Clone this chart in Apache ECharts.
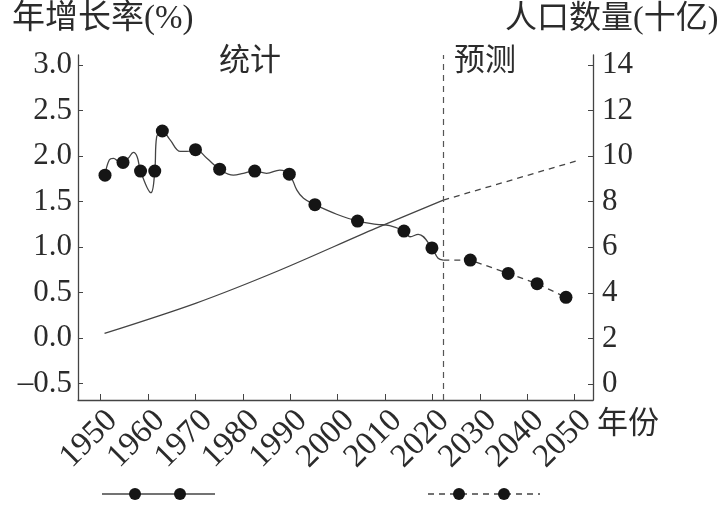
<!DOCTYPE html>
<html>
<head>
<meta charset="utf-8">
<script src="https://cdn.jsdelivr.net/npm/echarts@6/dist/echarts.min.js"></script>
<style>
html, body { margin: 0; padding: 0; background: #fff; }
#main { width: 724px; height: 505px; }
</style>
</head>
<body>
<div id="main"></div>
<script>
// 年增长率 圆点（统计）
var rateDotYears = [1950.9, 1954.7, 1958.4, 1961.4, 1963.0, 1970.0, 1975.1, 1982.5, 1989.8, 1995.2, 2004.2, 2014.0, 2019.9];
var rateDotValues = [1.79, 1.93, 1.835, 1.835, 2.275, 2.07, 1.855, 1.835, 1.80, 1.465, 1.285, 1.175, 0.99];

// 年增长率 曲线（统计，逐年波动）
var rateCurveYears = [1950.9, 1951.8, 1952.7, 1953.7, 1954.7, 1955.8, 1956.9, 1957.7, 1958.4, 1960.6, 1961.4, 1961.8, 1963.0, 1964.6, 1966.8, 1968.2, 1970.0, 1972.4, 1975.1, 1978.0, 1980.1, 1982.5, 1985.0, 1987.8, 1989.8, 1991.4, 1992.8, 1995.2, 1999.8, 2004.2, 2008.2, 2011.0, 2014.0, 2015.3, 2017.0, 2019.9, 2021.2, 2022.3];
var rateCurveValues = [1.79, 1.956, 1.975, 1.94, 1.93, 1.975, 2.04, 1.99, 1.835, 1.597, 1.835, 2.21, 2.275, 2.18, 2.05, 2.05, 2.07, 1.975, 1.855, 1.79, 1.81, 1.835, 1.81, 1.846, 1.80, 1.626, 1.535, 1.465, 1.36, 1.285, 1.25, 1.234, 1.175, 1.113, 1.14, 0.99, 0.876, 0.857];

// 年增长率（预测）
var rateForecastYears = [2022.3, 2028.0, 2036.0, 2042.1, 2048.2];
var rateForecastValues = [0.857, 0.857, 0.71, 0.597, 0.447];

// 人口数量（十亿）
var popYears = [1950.8, 1970.0, 1987.5, 2008.0, 2022.3];
var popValues = [2.22, 3.54, 4.97, 6.83, 8.07];
var popForecastYears = [2022.3, 2050.9];
var popForecastValues = [8.07, 9.82];

var splitYear = 2022.2;

var yearTicks = [1950, 1960, 1970, 1980, 1990, 2000, 2010, 2020, 2030, 2040, 2050];
var rateTicks = [-0.5, 0, 0.5, 1.0, 1.5, 2.0, 2.5, 3.0];
var popTicks = [0, 2, 4, 6, 8, 10, 12, 14];

function pairs(xs, ys) {
	var arr = [];
	for (var i = 0; i < xs.length; i++) {
		arr.push([xs[i], ys[i]]);
	}
	return arr;
}

var FONT = '"Liberation Serif", "Noto Sans CJK SC", serif';
var INK = '#2b2b2b';
var LINE = '#444';
var DOT = '#151515';

var dotData = pairs(rateDotYears, rateDotValues).concat(pairs(rateForecastYears.slice(1), rateForecastValues.slice(1)));

var option = {
	animation: false,
	backgroundColor: '#fff',
	grid: { left: 78, right: 131, top: 55, bottom: 105 },
	xAxis: {
		type: 'value',
		min: 1945.2,
		max: 2053.9,
		splitLine: { show: false },
		axisLine: { onZero: false, lineStyle: { color: LINE, width: 1.3 } },
		axisTick: { inside: true, length: 6, customValues: yearTicks, lineStyle: { color: LINE } },
		axisLabel: {
			customValues: yearTicks,
			rotate: 45,
			margin: 4,
			verticalAlign: 'top',
			fontFamily: FONT,
			fontSize: 33,
			color: INK,
			formatter: function (v) { return String(v); }
		}
	},
	yAxis: [
		{
			type: 'value',
			min: -0.681,
			max: 3.11,
			splitLine: { show: false },
			axisLine: { show: true, lineStyle: { color: LINE, width: 1.3 } },
			axisTick: { show: true, inside: true, length: 5, customValues: rateTicks, lineStyle: { color: LINE } },
			axisLabel: {
				customValues: rateTicks,
				margin: 6,
				fontFamily: FONT,
				fontSize: 31,
				color: INK,
				formatter: function (v) {
					return v < 0 ? '\u2013' + Math.abs(v).toFixed(1) : v.toFixed(1);
				}
			}
		},
		{
			type: 'value',
			position: 'right',
			min: -0.702,
			max: 14.44,
			splitLine: { show: false },
			axisLine: { show: true, lineStyle: { color: LINE, width: 1.3 } },
			axisTick: { show: true, inside: true, length: 5, customValues: popTicks, lineStyle: { color: LINE } },
			axisLabel: {
				customValues: popTicks,
				margin: 9,
				fontFamily: FONT,
				fontSize: 31,
				color: INK
			}
		}
	],
	graphic: [
		{ type: 'text', left: 12, top: 3, style: { text: '年增长率(%)', font: '33px ' + FONT, fill: INK } },
		{ type: 'text', left: 505, top: 4, style: { text: '人口数量(十亿)', font: '32px ' + FONT, fill: INK } },
		{ type: 'text', left: 219, top: 46, style: { text: '统计', font: '31px ' + FONT, fill: INK } },
		{ type: 'text', left: 454, top: 46, style: { text: '预测', font: '31px ' + FONT, fill: INK } },
		{ type: 'text', left: 597, top: 409, style: { text: '年份', font: '31px ' + FONT, fill: INK } },
		// 图例
		{ type: 'line', shape: { x1: 102, y1: 494, x2: 215, y2: 494 }, style: { stroke: LINE, lineWidth: 1.3 } },
		{ type: 'circle', shape: { cx: 135, cy: 494, r: 6 }, style: { fill: DOT } },
		{ type: 'circle', shape: { cx: 180, cy: 494, r: 6 }, style: { fill: DOT } },
		{ type: 'line', shape: { x1: 428, y1: 494, x2: 540, y2: 494 }, style: { stroke: LINE, lineWidth: 1.3, lineDash: [6, 5] } },
		{ type: 'circle', shape: { cx: 459, cy: 494, r: 6 }, style: { fill: DOT } },
		{ type: 'circle', shape: { cx: 504, cy: 494, r: 6 }, style: { fill: DOT } }
	],
	series: [
		{
			name: '年增长率',
			type: 'line',
			smooth: 0.4,
			showSymbol: false,
			data: pairs(rateCurveYears, rateCurveValues),
			lineStyle: { color: LINE, width: 1.3 },
			markLine: {
				silent: true,
				symbol: 'none',
				label: { show: false },
				lineStyle: { color: '#555', width: 1.2, type: [6, 5] },
				data: [{ xAxis: splitYear }]
			}
		},
		{
			name: '年增长率预测',
			type: 'line',
			showSymbol: false,
			data: pairs(rateForecastYears, rateForecastValues),
			lineStyle: { color: LINE, width: 1.3, type: [6, 5] }
		},
		{
			name: '年增长率点',
			type: 'scatter',
			symbolSize: 13,
			data: dotData,
			itemStyle: { color: DOT, opacity: 1 },
			z: 5
		},
		{
			name: '人口数量',
			type: 'line',
			yAxisIndex: 1,
			smooth: 0.3,
			showSymbol: false,
			data: pairs(popYears, popValues),
			lineStyle: { color: LINE, width: 1.3 }
		},
		{
			name: '人口数量预测',
			type: 'line',
			yAxisIndex: 1,
			showSymbol: false,
			data: pairs(popForecastYears, popForecastValues),
			lineStyle: { color: LINE, width: 1.3, type: [6, 5] }
		}
	]
};

var chart = echarts.init(document.getElementById('main'));
chart.setOption(option);
</script>
</body>
</html>
